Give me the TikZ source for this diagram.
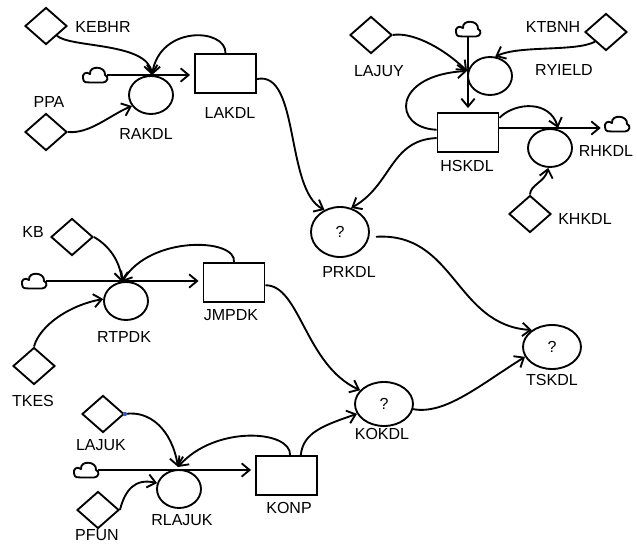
\documentclass[tikz,border=0pt]{standalone}
\usepackage{fontspec}
\setmainfont{Liberation Sans}
\usetikzlibrary{arrows.meta,shapes.geometric,calc}
\definecolor{dotblue}{HTML}{3A5BA8}
\begin{document}
\begin{tikzpicture}[x=0.75pt,y=-0.75pt,
  every node/.style={font=\fontsize{12pt}{14pt}\selectfont},
  lw/.style={line width=1.4pt},
  stock/.style={draw,lw,rectangle,minimum width=45.75pt,minimum height=29.25pt,inner sep=0pt},
  rate/.style={draw,lw,ellipse,minimum width=33pt,minimum height=28.5pt,inner sep=0pt},
  auxv/.style={draw,lw,ellipse,minimum width=43.5pt,minimum height=33pt,inner sep=0pt},
  cst/.style={draw,lw,diamond,minimum width=31.5pt,minimum height=27.75pt,inner sep=0pt},
  sink/.style={rectangle,minimum width=18pt,minimum height=11pt,inner sep=0pt},
  cloudpic/.pic={\draw[lw,line join=round] (-5,7.5) -- (8,7.5) .. controls (13,7.5) and (14,1) .. (10,0)
      .. controls (11,-9) and (-6,-10) .. (-5,-1) .. controls (-9,-4) and (-13,-1) .. (-12,3)
      .. controls (-12,8) and (-8,7.5) .. (-5,7.5) -- cycle;},
  lbl/.style={inner sep=0pt},
  flow/.style={lw,shorten >=3pt,-{Straight Barb[length=6pt,width=10pt]}},
  link/.style={lw,-{Straight Barb[length=6pt,width=10pt]}},
]
\useasboundingbox (0,0) rectangle (637,546);

% ---------- top left ----------
\node[cst] (kebhr) at (46,26) {};
\node[lbl] (kebhrL) at (103,27) {KEBHR};
\node[sink] (cloudA) at (95,75) {};
\node[stock] (lakdl) at (225.5,73.5) {};
\node[lbl] (lakdlL) at (230,113) {LAKDL};
\node[rate] (rakdl) at (151,95) {};
\node[lbl] (rakdlL) at (146,134) {RAKDL};
\node[lbl] (ppaL) at (49,102) {PPA};
\node[cst] (ppa) at (46,132) {};
\coordinate (valveA) at (152,75);

% ---------- top right ----------
\node[cst] (lajuy) at (371,35) {};
\node[lbl] (lajuyL) at (379,71) {LAJUY};
\node[sink] (cloudB) at (468,29) {};
\node[stock] (hskdl) at (468,132.5) {};
\node[lbl] (hskdlL) at (467,166) {HSKDL};
\node[rate] (ryield) at (490,76) {};
\node[lbl] (ryieldL) at (564,70) {RYIELD};
\node[cst] (ktbnh) at (606,32) {};
\node[lbl] (ktbnhL) at (553,27) {KTBNH};
\coordinate (valveB) at (467,71);
\node[sink] (cloudC) at (617,124) {};
\node[rate] (rhkdl) at (550,148) {};
\node[lbl] (rhkdlL) at (606,151) {RHKDL};
\node[cst] (khkdl) at (530,214) {};
\node[lbl] (khkdlL) at (585,219) {KHKDL};
\coordinate (valveC) at (558,128);

% ---------- middle ----------
\node[auxv,minimum height=37.5pt] (prkdl) at (340,232) {?};
\node[lbl] (prkdlL) at (349,272) {PRKDL};
\node[lbl] (kbL) at (33,232) {KB};
\node[cst] (kb) at (72,237) {};
\node[sink] (cloudD) at (34,281) {};
\node[stock] (jmpdk) at (234,282.5) {};
\node[lbl] (jmpdkL) at (231,315) {JMPDK};
\node[rate] (rtpdk) at (126,301) {};
\node[lbl] (rtpdkL) at (124,337) {RTPDK};
\coordinate (valveD) at (122,282);
\node[cst] (tkes) at (34,366) {};
\node[lbl] (tkesL) at (33,401) {TKES};
\node[auxv] (tskdl) at (552,347) {?};
\node[lbl] (tskdlL) at (552,380) {TSKDL};
\node[auxv] (kokdl) at (384,404) {?};
\node[lbl] (kokdlL) at (382,434) {KOKDL};

% ---------- bottom ----------
\node[cst] (lajuk) at (103,414) {};
\node[lbl] (lajukL) at (101,445) {LAJUK};
\node[sink] (cloudE) at (86,470) {};
\node[stock] (konp) at (286.5,475.5) {};
\node[lbl] (konpL) at (289,508) {KONP};
\node[rate] (rlajuk) at (179,489) {};
\node[lbl] (rlajukL) at (182,520) {RLAJUK};
\node[cst] (pfun) at (98,510) {};
\node[lbl] (pfunL) at (97,535) {PFUN};
\coordinate (valveE) at (178,467);

% ---------- clouds ----------
\pic at (cloudA) {cloudpic};
\pic at (cloudB) {cloudpic};
\pic at (cloudC) {cloudpic};
\pic at (cloudD) {cloudpic};
\pic at (cloudE) {cloudpic};

% ---------- connectors: top left ----------
\draw[flow] (cloudA.east) -- (cloudA.east -| lakdl.west);
\draw[link] (kebhr.south east) .. controls (70,48) and (148,42) .. (valveA);
\draw[link] (lakdl.north) .. controls (226,28) and (160,25) .. (valveA);
\draw[link] (ppa.east) .. controls (90,134) and (110,115) .. (rakdl.210);
\draw[link] (lakdl.-10) .. controls (300,70) and (285,190) .. (prkdl.125);

% ---------- connectors: top right ----------
\draw[flow] (cloudB.south) -- (cloudB.south |- hskdl.north);
\draw[link] (lajuy.east) .. controls (410,32) and (440,45) .. (valveB);
\draw[link] (hskdl.175) .. controls (392,128) and (392,75) .. (valveB);
\draw[link] (ktbnh.south west) .. controls (575,52) and (520,45) .. (ryield.75);
\draw[flow] (hskdl.east |- valveC) -- (valveC -| cloudC.west);
\draw[link] (hskdl.25) .. controls (515,102) and (550,100) .. (valveC);
\draw[link] (khkdl.north) .. controls (530,185) and (545,182) .. (rhkdl.265);
\draw[link] (hskdl.190) .. controls (390,140) and (392,185) .. (prkdl.65);

% ---------- connectors: middle ----------
\draw[flow] (cloudD.east) -- (cloudD.east -| jmpdk.west);
\draw[link] (kb.east) .. controls (108,245) and (120,260) .. (valveD);
\draw[link] (jmpdk.north) .. controls (237,238) and (150,235) .. (valveD);
\draw[link] (tkes.north) .. controls (40,325) and (70,305) .. (rtpdk.175);
\draw[link] (jmpdk.-5) .. controls (300,285) and (305,365) .. (kokdl.150);
\draw[link,shorten <=5pt] (prkdl.-10) .. controls (455,232) and (455,325) .. (tskdl.140);
\draw[link] (kokdl.-10) .. controls (445,415) and (480,385) .. (tskdl.200);

% ---------- connectors: bottom ----------
\draw[flow] (cloudE.east) -- (cloudE.east -| konp.west);
\draw[link] (lajuk.east) .. controls (150,410) and (172,430) .. (valveE);
\draw[link] (konp.80) .. controls (291,430) and (215,425) .. (valveE);
\draw[link] (pfun.east) .. controls (125,490) and (135,478) .. (rlajuk.165);
\draw[link] (konp.55) .. controls (303,432) and (325,425) .. (kokdl.200);
\fill[dotblue] (lajuk.east) circle (1.6pt);
\end{tikzpicture}
\end{document}
